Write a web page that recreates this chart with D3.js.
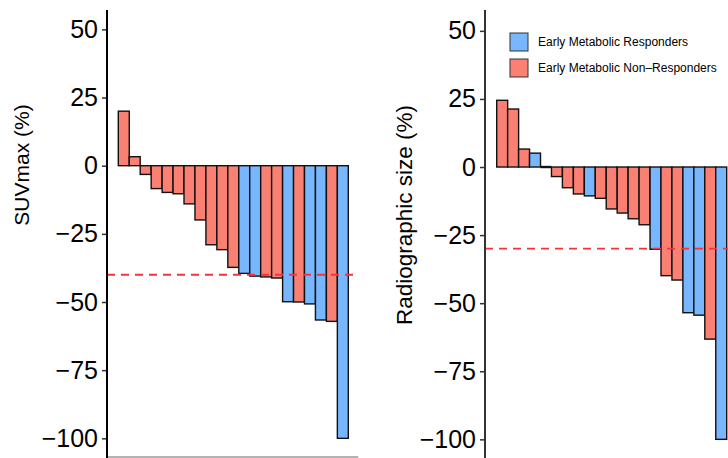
<!DOCTYPE html>
<html>
<head>
<meta charset="utf-8">
<script src="https://cdn.jsdelivr.net/npm/d3@7"></script>
<style>
  html, body { margin: 0; padding: 0; background: #fff; }
  text { font-family: "Liberation Sans", Arial, Helvetica, sans-serif; }
</style>
</head>
<body>
<div id="chart"></div>
<script>
const width = 728;
const height = 458;

// responder group per patient: R = early metabolic responder, N = non-responder
const suvGroups = ["N","N","N","N","N","N","N","N","N","N","N","R","R","N","N","R","N","R","R","N","R"];
const suvValues = [20, 3.3, -3.2, -8.4, -9.8, -10.3, -14, -19.9, -29, -30.8, -37.3, -39.5, -40.5, -40.8, -41.2, -49.9, -50, -50.7, -56.6, -57.1, -100];

const sizeGroups = ["N","N","N","R","N","N","N","N","R","N","N","N","N","N","R","N","N","R","R","N","R"];
const sizeValues = [24.5, 21.3, 6.6, 5.1, 0, -3.5, -7.6, -9.9, -10.6, -11.5, -15.4, -16.9, -19, -21.2, -30.2, -39.9, -41.5, -53.5, -54.4, -63.2, -100];

const yTicks = [50, 25, 0, -25, -50, -75, -100];
const legendLabels = ["Early Metabolic Responders", "Early Metabolic Non\u2013Responders"];

const colors = { R: "#78B6FD", N: "#F98072" };

const svg = d3.select("#chart").append("svg")
  .attr("width", width)
  .attr("height", height);

function drawPanel(opts) {
  const x = d3.scaleBand()
    .domain(d3.range(opts.values.length))
    .range(opts.xRange)
    .padding(0);

  const y = d3.scaleLinear()
    .domain([-107, 57])
    .range(opts.yRange);

  const g = svg.append("g");

  if (opts.bottomLine) {
    g.append("line")
      .attr("x1", opts.axisX).attr("x2", opts.xRange[1] + 10)
      .attr("y1", 457).attr("y2", 457)
      .attr("stroke", "#9a9a9a")
      .attr("stroke-width", 1.5);
  }

  g.selectAll("rect.bar")
    .data(opts.values)
    .join("rect")
    .attr("class", "bar")
    .attr("x", (d, i) => x(i))
    .attr("y", d => y(Math.max(0, d)))
    .attr("width", x.bandwidth())
    .attr("height", d => Math.abs(y(d) - y(0)))
    .attr("fill", (d, i) => colors[opts.groups[i]])
    .attr("stroke", "#111")
    .attr("stroke-width", 1.4);

  // svg skips zero-height rects, so draw those bars as a flat line
  g.selectAll("line.zero")
    .data(opts.values.map((v, i) => ({ v, i })).filter(d => d.v === 0))
    .join("line")
    .attr("class", "zero")
    .attr("x1", d => x(d.i)).attr("x2", d => x(d.i) + x.bandwidth())
    .attr("y1", y(0)).attr("y2", y(0))
    .attr("stroke", "#111")
    .attr("stroke-width", 2.4);

  g.append("line")
    .attr("x1", opts.axisX).attr("x2", opts.dashEnd)
    .attr("y1", y(opts.threshold)).attr("y2", y(opts.threshold))
    .attr("stroke", "#F5333A")
    .attr("stroke-width", 1.8)
    .attr("stroke-dasharray", "8,6");

  const axis = g.append("g")
    .attr("transform", `translate(${opts.axisX},0)`)
    .call(d3.axisLeft(y).tickValues(yTicks).tickSize(5).tickPadding(4)
      .tickFormat(d => d < 0 ? "\u2212" + Math.abs(d) : d));

  axis.select(".domain").remove();
  axis.selectAll(".tick line").attr("stroke", "#333").attr("stroke-width", 1.5);
  axis.selectAll(".tick text")
    .attr("fill", "#000")
    .style("font-size", "25px");

  g.append("line")
    .attr("x1", opts.axisX).attr("x2", opts.axisX)
    .attr("y1", 10).attr("y2", height)
    .attr("stroke", opts.axisColor)
    .attr("stroke-width", 2);

  g.append("text")
    .attr("transform", `translate(${opts.titleX},${opts.titleY}) rotate(-90)`)
    .attr("text-anchor", "middle")
    .style("font-size", opts.titleSize)
    .text(opts.title);
}

drawPanel({
  values: suvValues, groups: suvGroups,
  xRange: [118.3, 348.3], yRange: [457.4, 10.3],
  axisX: 107, axisColor: "#000", dashEnd: 356, threshold: -40,
  bottomLine: true,
  title: "SUVmax (%)", titleX: 29, titleY: 165, titleSize: "21px"
});

drawPanel({
  values: sizeValues, groups: sizeGroups,
  xRange: [496.7, 726.7], yRange: [458.4, 11.8],
  axisX: 485, axisColor: "#333", dashEnd: 728, threshold: -30,
  bottomLine: false,
  title: "Radiographic size (%)", titleX: 412, titleY: 215, titleSize: "22.5px"
});

// legend
const legend = svg.append("g").attr("transform", "translate(510,33)");
const item = legend.selectAll("g")
  .data(legendLabels)
  .join("g")
  .attr("transform", (d, i) => `translate(0,${i * 26})`);

item.append("rect")
  .attr("width", 18).attr("height", 18)
  .attr("fill", (d, i) => i === 0 ? colors.R : colors.N)
  .attr("stroke", "#333")
  .attr("stroke-width", 1);

item.append("text")
  .attr("x", 28).attr("y", 9)
  .attr("dy", "0.35em")
  .style("font-size", "12px")
  .text(d => d);
</script>
</body>
</html>
